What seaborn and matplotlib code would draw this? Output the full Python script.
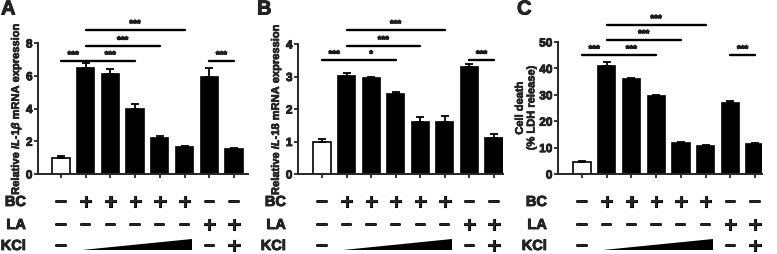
import numpy as np
import pandas as pd
import matplotlib
matplotlib.use('Agg')
import matplotlib.pyplot as plt
import matplotlib.transforms as mtransforms
import matplotlib.patheffects as pe
import seaborn as sns

sns.set_style('ticks')
plt.rcParams['font.family'] = ['Liberation Sans', 'DejaVu Sans']
plt.rcParams['font.weight'] = 'bold'
plt.rcParams['mathtext.fontset'] = 'custom'
plt.rcParams['mathtext.it'] = 'Liberation Sans:italic:bold'
plt.rcParams['mathtext.rm'] = 'Liberation Sans:bold'

# data
groups = ['ctrl', 'BC', 'BC+K1', 'BC+K2', 'BC+K3', 'BC+K4', 'LA', 'LA+K']
bc_row = ['–', '+', '+', '+', '+', '+', '–', '–']
la_row = ['–', '–', '–', '–', '–', '–', '+', '+']
kcl_row = ['–', None, None, None, None, None, '–', '+']

il1b_mean = [1.0, 6.5, 6.1, 4.0, 2.2, 1.65, 5.95, 1.5]
il1b_err = [0.1, 0.25, 0.3, 0.25, 0.1, 0.08, 0.5, 0.08]
il18_mean = [1.0, 3.02, 2.95, 2.47, 1.6, 1.6, 3.3, 1.1]
il18_err = [0.08, 0.08, 0.02, 0.04, 0.15, 0.2, 0.1, 0.12]
ldh_mean = [4.5, 41.0, 36.0, 29.5, 11.7, 10.7, 27.0, 11.3]
ldh_err = [0.6, 1.5, 0.5, 0.6, 0.5, 0.4, 0.8, 0.3]

# significance bars: (from, to, height, label)
sig_a = [(0, 1, 6.9, '***'), (1, 3, 6.9, '***'), (1, 4, 7.8, '***'), (1, 5, 8.8, '***'), (6, 7, 6.9, '***')]
sig_b = [(0, 1, 3.5, '***'), (1, 3, 3.5, '*'), (1, 4, 3.94, '***'), (1, 5, 4.43, '***'), (6, 7, 3.5, '***')]
sig_c = [(0, 1, 45, '***'), (1, 3, 45, '***'), (1, 4, 50.8, '***'), (1, 5, 56.5, '***'), (6, 7, 45, '***')]

W, H = 777, 255
fig = plt.figure(figsize=(W / 100, H / 100), dpi=100)

heavy = [pe.withStroke(linewidth=1.3, foreground='black')]
semi = [pe.withStroke(linewidth=0.6, foreground='black')]


def px_axes(l, r, b, t):
    return fig.add_axes([l / W, 1 - b / H, (r - l) / W, (b - t) / H])


panels = [
    dict(box=(38, 248, 175, 44), xlim=(-0.93, 7.57), mean=il1b_mean, err=il1b_err, sig=sig_a,
         ymax=8, yticks=[0, 2, 4, 6, 8],
         ylabel=r'Relative $\mathit{IL}$-$\mathit{1\beta}$ mRNA expression',
         letter='A', lx=1, rowx=26),
    dict(box=(298, 503, 175, 45), xlim=(-0.98, 7.37), mean=il18_mean, err=il18_err, sig=sig_b,
         ymax=4, yticks=[0, 1, 2, 3, 4],
         ylabel=r'Relative $\mathit{IL}$-$\mathit{18}$ mRNA expression',
         letter='B', lx=257, rowx=286),
    dict(box=(558, 762, 175, 43), xlim=(-0.97, 7.28), mean=ldh_mean, err=ldh_err, sig=sig_c,
         ymax=50, yticks=[0, 10, 20, 30, 40, 50], ylabel='Cell death\n(% LDH release)',
         letter='C', lx=517, rowx=547),
]

row_px = [203, 226, 247]

for p in panels:
    ax = px_axes(*p['box'])
    df = pd.DataFrame({'group': groups, 'value': p['mean']})
    sns.barplot(data=df, x='group', y='value', order=groups, color='black',
                width=0.7, edgecolor='black', linewidth=1.2, ax=ax)
    ax.patches[0].set_facecolor('white')
    x = np.arange(len(groups))
    ax.errorbar(x, p['mean'], yerr=[np.zeros(len(x)), p['err']], fmt='none',
                ecolor='black', elinewidth=1.3, capsize=3, capthick=1.3, zorder=3)
    ax.set_xlim(*p['xlim'])
    ax.set_ylim(0, p['ymax'])
    ax.set_yticks(p['yticks'])
    ax.set_yticklabels([str(t) for t in p['yticks']], fontsize=8.5, fontweight='bold')
    for t in ax.get_yticklabels():
        t.set_path_effects(semi)
    ax.set_xticks(x)
    ax.set_xticklabels([])
    ax.set_xlabel('')
    yl = ax.set_ylabel(p['ylabel'], fontsize=8, fontweight='bold', labelpad=2)
    yl.set_path_effects([pe.withStroke(linewidth=0.4, foreground='black')])
    ax.tick_params(axis='both', width=1.3, length=3, pad=1)
    sns.despine(ax=ax)
    for s in ['left', 'bottom']:
        ax.spines[s].set_linewidth(1.4)

    # significance lines
    for i, j, h, lab in p['sig']:
        ax.plot([i, j], [h, h], color='black', lw=1.7, clip_on=False)
        ax.text((i + j) / 2, h + p['ymax'] * 0.01, lab, ha='center', va='bottom',
                fontsize=7, fontweight='bold', path_effects=semi)

    # treatment rows
    tr = mtransforms.blended_transform_factory(ax.transData, fig.transFigure)
    for rvals, ry in zip([bc_row, la_row, kcl_row], row_px):
        for xi, s in zip(x, rvals):
            if s is None:
                continue
            if s == '+':
                ax.text(xi, 1 - ry / H, s, transform=tr, ha='center', va='center',
                        fontsize=13, fontweight='bold', family='DejaVu Sans',
                        clip_on=False, path_effects=[pe.withStroke(linewidth=0.8, foreground='black')])
            else:
                ax.text(xi, 1 - ry / H, s, transform=tr, ha='center', va='center',
                        fontsize=13.5, fontweight='bold', clip_on=False, path_effects=heavy)
    # KCl ramp
    ax.fill([0.85, 5.3, 5.3], [1 - 251 / H, 1 - 251 / H, 1 - 240 / H], transform=tr,
            color='black', clip_on=False, lw=0)
    for lab, ry in zip(['BC', 'LA', 'KCl'], row_px):
        fig.text(p['rowx'] / W, 1 - ry / H, lab, ha='right', va='center',
                 fontsize=10.5, fontweight='bold', path_effects=semi)
    fig.text(p['lx'] / W, 1 - 10 / H, p['letter'], ha='left', va='center',
             fontsize=14.5, fontweight='bold', path_effects=semi)

fig.savefig('out.png', dpi=100)
